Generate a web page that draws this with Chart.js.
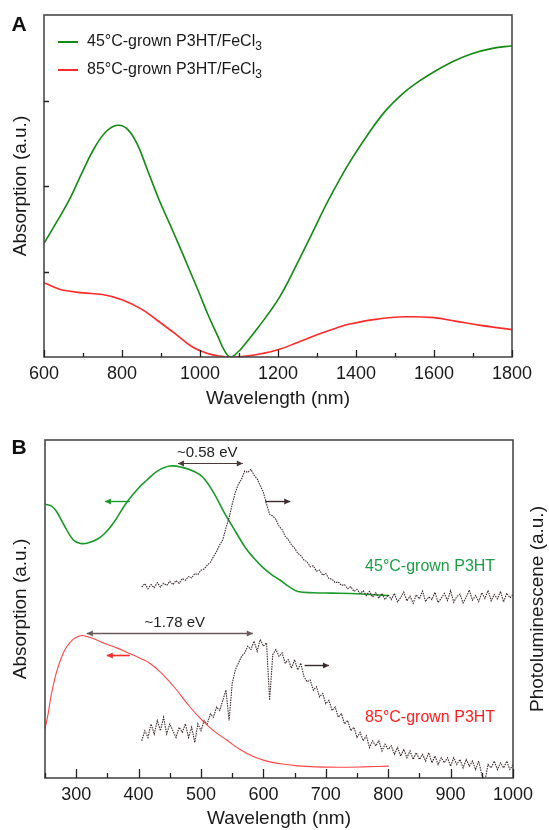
<!DOCTYPE html>
<html>
<head>
<meta charset="utf-8">
<script src="https://cdn.jsdelivr.net/npm/chart.js@4.4.1/dist/chart.umd.min.js"></script>
<style>
  body { margin: 0; background: #fff; }
  #wrap { position: relative; width: 549px; height: 830px; }
  canvas { position: absolute; left: 0; }
</style>
</head>
<body>
<div id="wrap">
  <canvas id="chartA" width="549" height="410" style="top:0"></canvas>
  <canvas id="chartB" width="549" height="420" style="top:410px"></canvas>
</div>
<script>
// ---- panel A: absorption of the FeCl3-doped films ----
const wlA45 = [600, 630, 665, 700, 730, 760, 789, 815, 840, 865, 895, 920, 945, 970, 995, 1020, 1045, 1062, 1078, 1100,
  1115, 1150, 1204, 1250, 1290, 1330, 1380, 1430, 1474, 1520, 1560, 1609, 1650, 1699, 1750, 1800];
const absA45 = [1.33, 1.56, 1.84, 2.18, 2.45, 2.64, 2.71, 2.66, 2.48, 2.19, 1.84, 1.58, 1.32, 1.05, 0.78, 0.50, 0.25, 0.08, 0, 0.07,
  0.15, 0.35, 0.70, 1.10, 1.47, 1.84, 2.25, 2.60, 2.87, 3.08, 3.22, 3.36, 3.46, 3.55, 3.61, 3.64];
const wlA85 = [600, 625, 650, 700, 750, 800, 850, 890, 940, 980, 1020, 1050, 1080, 1120, 1160, 1204, 1250, 1300, 1350, 1384,
  1450, 1528, 1600, 1654, 1720, 1800];
const absA85 = [0.87, 0.82, 0.78, 0.75, 0.73, 0.67, 0.56, 0.43, 0.26, 0.12, 0.04, 0.01, 0, 0.01, 0.04, 0.09, 0.17, 0.26, 0.34, 0.385,
  0.44, 0.47, 0.46, 0.42, 0.37, 0.32];
const labelsA = ["45°C-grown P3HT/FeCl₃", "85°C-grown P3HT/FeCl₃"];

// ---- panel B: absorption + photoluminescence ----
const wlB45 = [250, 260, 268, 280, 295, 307, 320, 335, 346, 360, 380, 400, 413, 430, 450, 470, 490, 503, 520, 537,
  555, 571, 585, 599, 613, 627, 641, 655, 680, 710, 740, 770, 800];
const absB45 = [81, 80.5, 79, 75, 70.5, 69.4, 69.6, 70.8, 72.4, 75.5, 81.3, 85.8, 88.1, 90.8, 92.3, 91.9, 90.6, 89, 84.5, 78.6,
  73, 68.2, 65, 62.3, 60.2, 58.5, 56.6, 55.2, 54.8, 54.7, 54.6, 54.3, 54];
const wlB85 = [250, 255, 260, 268, 276, 284, 295, 305, 312, 325, 346, 365, 386, 405, 419, 435, 458, 478, 498, 520,
  543, 562, 582, 605, 627, 655, 683, 720, 760, 801];
const absB85 = [14.5, 19, 24.5, 31, 35.5, 38.6, 41, 42, 42.1, 41.4, 39.8, 38.5, 36.8, 35.2, 33.8, 31.3, 26.7, 22, 17.8, 14,
  11, 8.5, 6.5, 5, 4.2, 3.6, 3.3, 3.2, 3.3, 3.5];

const wlPL = [405, 410, 415, 420, 425, 430, 435, 440, 445, 450, 455, 460, 465, 470, 475, 480, 485, 490, 495, 500,
  505, 510, 515, 520, 525, 530, 535, 540, 545, 550, 555, 560, 565, 570, 575, 580, 585, 590, 595, 600,
  605, 610, 615, 620, 625, 630, 635, 640, 645, 650, 655, 660, 665, 670, 675, 680, 685, 690, 695, 700,
  705, 710, 715, 720, 725, 730, 735, 740, 745, 750, 755, 760, 765, 770, 775, 780, 785, 790, 795, 800,
  805, 810, 815, 820, 825, 830, 835, 840, 845, 850, 855, 860, 865, 870, 875, 880, 885, 890, 895, 900,
  905, 910, 915, 920, 925, 930, 935, 940, 945, 950, 955, 960, 965, 970, 975, 980, 985, 990, 995, 1000];
const pl45 = [56.5, 57.5, 56, 57.2, 56.3, 57.8, 56.5, 57.6, 57, 58.2, 57.2, 58.4, 57.6, 59, 58.5, 59.6, 59.2, 60.5, 60.2, 61.5,
  61.8, 63, 63.8, 65.5, 67, 69, 70.5, 74, 77, 81, 84.5, 87, 88.4, 90.8, 90.4, 91.3, 89.6, 88.5, 86.5, 84.5,
  81, 78, 77.5, 76.5, 74.5, 73.5, 71.5, 70.5, 69, 68, 66.5, 65.8, 64.5, 64, 62.5, 62.8, 61.2, 61.5, 60, 60.5,
  59, 58.8, 57.8, 58, 57, 57.2, 56, 56.6, 55.2, 55.8, 54.6, 55.4, 54, 55.2, 53.5, 54.8, 53.2, 54.6, 52.8, 54.2,
  52.8, 54.6, 52.1, 53.4, 55, 52.4, 53.8, 51.7, 54.2, 53, 55.3, 52.2, 53.6, 52.8, 54.9, 51.9, 53.2, 54.6, 52.5, 55.4,
  52, 53.7, 54.4, 51.8, 53.5, 55.6, 52.6, 54, 52.2, 54.8, 53.1, 55.5, 52.4, 54.3, 53, 55.2, 52.1, 54.7, 53.3, 54.2];
const pl85 = [11, 14, 12, 16, 13, 17, 14, 18, 13, 16, 14, 12, 15, 13.5, 16, 12, 15, 10.5, 16, 14,
  17, 16, 19, 18, 21, 20, 23, 26, 17, 28, 32, 34, 36, 37, 39, 38, 40.5, 37.5, 41, 39,
  40, 23, 36.5, 38, 36, 37, 34, 35, 32.5, 35, 32, 34, 30, 28.5, 29, 26, 27, 24, 25, 22,
  23, 20, 21, 18, 19, 16, 17, 14, 15, 12, 13.5, 11, 12.5, 9, 11, 9.5, 11, 8, 10, 8.5,
  9.5, 7, 9, 6.5, 8.5, 6, 8, 5.5, 7.5, 5.5, 7, 5, 7.5, 4.5, 6.5, 4, 6, 4.5, 6, 3.5,
  6, 4, 5.5, 3, 5.5, 3.5, 5, 2.5, 5, 1, -1, 4, 3, 5, 2.5, 4.5, 3, 5, 2.5, 4];
const labelsB = ["45°C-grown P3HT", "85°C-grown P3HT"];

const FONT = "'Liberation Sans', Arial, sans-serif";
Chart.defaults.font.family = FONT;
Chart.defaults.color = "#1a1a1a";

const pts = (xs, ys) => xs.map((x, i) => ({ x: x, y: ys[i] }));

// box around the plot + inward tick marks
const framePlugin = {
  id: "frame",
  afterDatasetsDraw(chart, args, o) {
    const { ctx, chartArea: a, scales } = chart;
    ctx.save();
    ctx.strokeStyle = "#4a4a4a";
    ctx.lineWidth = 1.6;
    ctx.strokeRect(a.left, a.top, a.right - a.left, a.bottom - a.top);
    ctx.strokeStyle = "#222";
    ctx.lineWidth = 1.3;
    ctx.beginPath();
    scales.x.ticks.forEach((t) => {
      const px = Math.round(scales.x.getPixelForValue(t.value)) + 0.5;
      const len = t.value % o.major === 0 ? o.majorLen : o.minorLen;
      ctx.moveTo(px, a.bottom);
      ctx.lineTo(px, a.bottom - len);
    });
    if (o.yTicks) {
      scales.y.ticks.forEach((t) => {
        if (t.value <= scales.y.min || t.value >= scales.y.max) return;
        const py = Math.round(scales.y.getPixelForValue(t.value)) + 0.5;
        ctx.moveTo(a.left, py);
        ctx.lineTo(a.left + 5, py);
      });
    }
    ctx.stroke();
    ctx.font = "bold 21px " + FONT;
    ctx.fillStyle = "#111";
    ctx.textAlign = "center";
    ctx.textBaseline = "middle";
    ctx.fillText(o.letter, 19, o.letterY);
    ctx.restore();
  },
};

function drawSubText(ctx, text, x, y, size) {
  const parts = text.split("₃");
  ctx.font = size + "px " + FONT;
  ctx.fillText(parts[0], x, y);
  if (parts.length > 1) {
    const w = ctx.measureText(parts[0]).width;
    ctx.font = Math.round(size * 0.72) + "px " + FONT;
    ctx.fillText("3", x + w, y + size * 0.32);
  }
}

const legendA = {
  id: "legendA",
  afterDraw(chart) {
    const { ctx, chartArea: a } = chart;
    ctx.save();
    ctx.textBaseline = "middle";
    ctx.textAlign = "left";
    chart.data.datasets.forEach((ds, i) => {
      const y = a.top + 27 + i * 28;
      ctx.strokeStyle = ds.borderColor;
      ctx.lineWidth = 2;
      ctx.beginPath();
      ctx.moveTo(a.left + 14, y);
      ctx.lineTo(a.left + 34, y);
      ctx.stroke();
      ctx.fillStyle = "#1a1a1a";
      drawSubText(ctx, ds.label, a.left + 43, y, 16);
    });
    ctx.restore();
  },
};

new Chart(document.getElementById("chartA"), {
  type: "line",
  data: {
    datasets: [
      { label: labelsA[0], data: pts(wlA45, absA45), borderColor: "#138a13", borderWidth: 1.6,
        pointRadius: 0, tension: 0.4 },
      { label: labelsA[1], data: pts(wlA85, absA85), borderColor: "#ff2a2a", borderWidth: 1.6,
        pointRadius: 0, tension: 0.4 },
    ],
  },
  options: {
    responsive: false,
    animation: false,
    layout: { padding: { top: 15, right: 37, left: 0, bottom: 0 } },
    plugins: {
      legend: { display: false },
      tooltip: { enabled: false },
      frame: { major: 200, majorLen: 7, minorLen: 4, yTicks: true, letter: "A", letterY: 25 },
    },
    scales: {
      x: {
        type: "linear", min: 600, max: 1800,
        grid: { display: false, drawTicks: false }, border: { display: false },
        ticks: { stepSize: 100, autoSkip: false, maxRotation: 0, padding: 6, font: { size: 18 },
          callback: (v) => (v % 200 === 0 ? v : "") },
        title: { display: true, text: "Wavelength (nm)", font: { size: 19 }, padding: { top: 0, bottom: 0 } },
        afterFit: (s) => { s.height = 53; },
      },
      y: {
        min: 0, max: 4,
        grid: { display: false, drawTicks: false }, border: { display: false },
        ticks: { display: false, stepSize: 1 },
        title: { display: true, text: "Absorption (a.u.)", font: { size: 19 }, padding: { top: 9, bottom: 0 } },
        afterFit: (s) => { s.width = 44; },
      },
    },
  },
  plugins: [framePlugin, legendA],
});

// arrows, gap labels and curve names for panel B
const notesB = {
  id: "notesB",
  afterDatasetsDraw(chart, args, o) {
    const { ctx, scales } = chart;
    const X = (v) => scales.x.getPixelForValue(v);
    const Y = (v) => scales.y.getPixelForValue(v);
    ctx.save();
    const head = (x, y, dir, col) => {
      ctx.fillStyle = col;
      ctx.beginPath();
      ctx.moveTo(x, y);
      ctx.lineTo(x - dir * 6, y - 3);
      ctx.lineTo(x - dir * 6, y + 3);
      ctx.closePath();
      ctx.fill();
    };
    o.arrows.forEach((ar) => {
      const x1 = X(ar.from), x2 = X(ar.to), y = Math.round(Y(ar.y)) + 0.5;
      ctx.strokeStyle = ar.color;
      ctx.lineWidth = ar.width;
      ctx.beginPath();
      ctx.moveTo(x1, y);
      ctx.lineTo(x2, y);
      ctx.stroke();
      if (ar.heads === "both" || ar.heads === "left") head(x1, y, -1, ar.color);
      if (ar.heads === "both" || ar.heads === "right") head(x2, y, 1, ar.color);
    });
    ctx.textBaseline = "middle";
    o.texts.forEach((t) => {
      ctx.font = t.size + "px " + FONT;
      ctx.fillStyle = t.color;
      ctx.textAlign = t.align;
      ctx.fillText(t.text, X(t.x), Y(t.y));
    });
    // right-hand axis title, read bottom to top
    const a = chart.chartArea;
    ctx.save();
    ctx.translate(538, (a.top + a.bottom) / 2);
    ctx.rotate(-Math.PI / 2);
    ctx.font = "19px " + FONT;
    ctx.fillStyle = "#1a1a1a";
    ctx.textAlign = "center";
    ctx.fillText(chart.options.scales.y2.title.text, 0, 0);
    ctx.restore();
    ctx.restore();
  },
};

const PLC = "#3a2a2a";
new Chart(document.getElementById("chartB"), {
  type: "line",
  data: {
    datasets: [
      { label: "PL " + labelsB[0], data: pts(wlPL, pl45), yAxisID: "y2", borderColor: PLC, borderWidth: 1.1,
        borderDash: [1.5, 1], pointRadius: 0, tension: 0 },
      { label: "PL " + labelsB[1], data: pts(wlPL, pl85), yAxisID: "y2", borderColor: PLC, borderWidth: 1.1,
        borderDash: [1.5, 1], pointRadius: 0, tension: 0 },
      { label: labelsB[0], data: pts(wlB45, absB45), yAxisID: "y", borderColor: "#1b9a2a", borderWidth: 1.6,
        pointRadius: 0, tension: 0.4 },
      { label: labelsB[1], data: pts(wlB85, absB85), yAxisID: "y", borderColor: "#ff4545", borderWidth: 1.1,
        pointRadius: 0, tension: 0.4 },
    ],
  },
  options: {
    responsive: false,
    animation: false,
    layout: { padding: { top: 30, right: 0, left: 0, bottom: 0 } },
    plugins: {
      legend: { display: false },
      tooltip: { enabled: false },
      frame: { major: 100, majorLen: 9, minorLen: 5, yTicks: false, letter: "B", letterY: 38 },
      notesB: {
        arrows: [
          { from: 463, to: 567, y: 93.2, heads: "both", color: "#4a3a3a", width: 1 },
          { from: 317, to: 583, y: 42.8, heads: "both", color: "#6a5a5a", width: 1.3 },
          { from: 346, to: 386, y: 81.9, heads: "left", color: "#1b9a2a", width: 1.4 },
          { from: 603, to: 643, y: 82, heads: "right", color: "#3a2a2a", width: 1.4 },
          { from: 349, to: 386, y: 36.5, heads: "left", color: "#ff2a2a", width: 1.6 },
          { from: 666, to: 705, y: 33.5, heads: "right", color: "#3a2a2a", width: 1.4 },
        ],
        texts: [
          { text: "~0.58 eV", x: 510, y: 96.2, align: "center", size: 15, color: "#222" },
          { text: "~1.78 eV", x: 458, y: 45.8, align: "center", size: 15, color: "#222" },
          { text: labelsB[0], x: 763, y: 62.6, align: "left", size: 16, color: "#1d9e46" },
          { text: labelsB[1], x: 763, y: 17.9, align: "left", size: 16, color: "#ff2020" },
        ],
      },
    },
    scales: {
      x: {
        type: "linear", min: 250, max: 1000,
        grid: { display: false, drawTicks: false }, border: { display: false },
        ticks: { stepSize: 50, autoSkip: false, maxRotation: 0, padding: 6, font: { size: 18 },
          callback: (v) => (v % 100 === 0 ? v : "") },
        title: { display: true, text: "Wavelength (nm)", font: { size: 19 }, padding: { top: 0, bottom: 0 } },
        afterFit: (s) => { s.height = 52; },
      },
      y: {
        min: 0, max: 100, position: "left",
        grid: { display: false, drawTicks: false }, border: { display: false },
        ticks: { display: false },
        title: { display: true, text: "Absorption (a.u.)", font: { size: 19 }, padding: { top: 9, bottom: 0 } },
        afterFit: (s) => { s.width = 45; },
      },
      y2: {
        min: 0, max: 100, position: "right",
        grid: { display: false, drawTicks: false }, border: { display: false },
        ticks: { display: false },
        title: { display: false, text: "Photoluminescene (a.u.)" },
        afterFit: (s) => { s.width = 36; },
      },
    },
  },
  plugins: [framePlugin, notesB],
});
</script>
</body>
</html>
